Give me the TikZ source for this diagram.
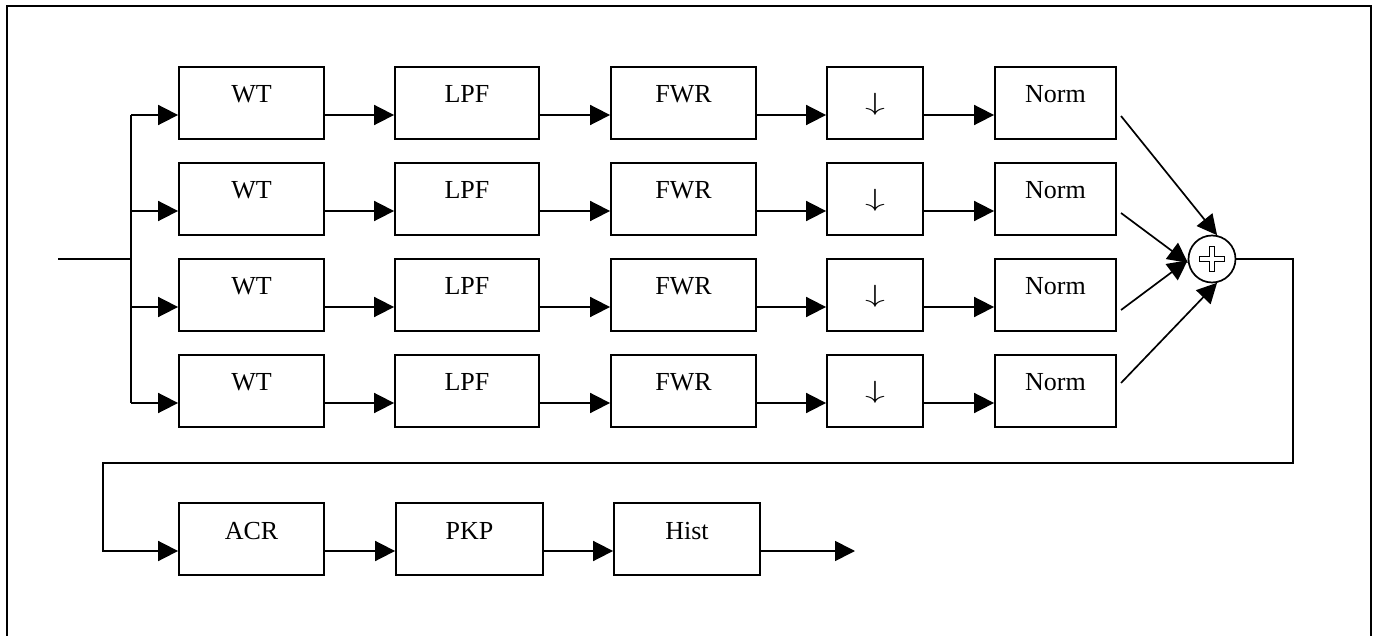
\documentclass[tikz,border=0pt]{standalone}
\usepackage{fontspec}
\setmainfont{Liberation Serif}
\usetikzlibrary{arrows.meta}
\begin{document}
\begin{tikzpicture}[x=1pt,y=-1pt,
  blk/.style={draw, line width=1.8pt, minimum height=72pt, inner sep=0pt,
    text height=20pt, text depth=20pt, font=\fontsize{26}{30}\selectfont},
  arr/.style={line width=1.7pt, -{Triangle[length=20pt,width=20pt]}},
  ln/.style={line width=1.7pt},
  frame/.style={line width=2pt}]
\useasboundingbox (0,0) rectangle (1374,636);
\draw[frame] (7,650) -- (7,6) -- (1371,6) -- (1371,650);

% input split
\coordinate (in) at (58,259);
\coordinate (split) at (131,259);
\draw[ln] (in) -- (split);

% summing junction
\node[draw, circle, line width=1.7pt, minimum size=47pt, inner sep=0pt] (sum) at (1212,259) {};
\draw[line width=1.1pt, fill=white] (sum.center)
  ++(-12.5,-2.5) -- ++(10,0) -- ++(0,-10) -- ++(5,0) -- ++(0,10) -- ++(10,0)
  -- ++(0,5) -- ++(-10,0) -- ++(0,10) -- ++(-5,0) -- ++(0,-10) -- ++(-10,0) -- cycle;

\foreach \r/\yy/\sy/\ang in {1/103/116/78, 2/199/213/189, 3/295/310/183, 4/391/383/282}{
  \node[blk, minimum width=145pt] (wt\r) at (251.5,\yy) {WT};
  \node[blk, minimum width=144pt] (lpf\r) at (467,\yy) {LPF};
  \node[blk, minimum width=145pt] (fwr\r) at (683.5,\yy) {FWR};
  \node[blk, minimum width=96pt] (dn\r) at (875,\yy)
    {\raisebox{-7.25pt}{\scalebox{1.6}[1]{\fontsize{29}{30}\selectfont$\downarrow$}}};
  \node[blk, minimum width=121pt] (norm\r) at (1055.5,\yy) {Norm};
  \coordinate (a\r) at ([yshift=-12pt]wt\r.west);
  \draw[arr] (split |- a\r) -- (a\r);
  \draw[arr] ([yshift=-12pt]wt\r.east) -- ([yshift=-12pt]lpf\r.west);
  \draw[arr] ([yshift=-12pt]lpf\r.east) -- ([yshift=-12pt]fwr\r.west);
  \draw[arr] ([yshift=-12pt]fwr\r.east) -- ([yshift=-12pt]dn\r.west);
  \draw[arr] ([yshift=-12pt]dn\r.east) -- ([yshift=-12pt]norm\r.west);
  \coordinate (s\r) at (1121,\sy);
  \draw[arr] (s\r) -- (sum.\ang);
}
\draw[ln] (split |- a1) -- (split |- a4);

% lower chain
\node[blk, minimum width=145pt] (acr) at (251.5,539) {ACR};
\node[blk, minimum width=147pt] (pkp) at (469.5,539) {PKP};
\node[blk, minimum width=146pt] (hist) at (687,539) {Hist};
\coordinate (c1) at (1293,463);
\coordinate (c2) at (103,463);
\coordinate (out) at (855,551);
\draw[arr] (sum.east) -| (c1) -- (c2) |- ([yshift=-12pt]acr.west);
\draw[arr] ([yshift=-12pt]acr.east) -- ([yshift=-12pt]pkp.west);
\draw[arr] ([yshift=-12pt]pkp.east) -- ([yshift=-12pt]hist.west);
\draw[arr] ([yshift=-12pt]hist.east) -- (out);
\end{tikzpicture}
\end{document}
